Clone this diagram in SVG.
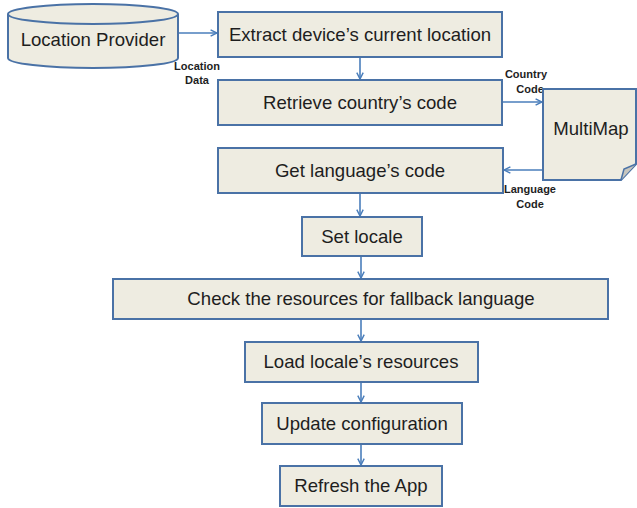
<svg xmlns="http://www.w3.org/2000/svg" width="637" height="508" viewBox="0 0 637 508">
<style>
.box{fill:#EEECE1;stroke:#4A72A6;stroke-width:2}
.t{font-family:"Liberation Sans",Arial,sans-serif;font-size:18.6px;fill:#1E1E1E;text-anchor:middle}
.lbl{font-family:"Liberation Sans",Arial,sans-serif;font-size:11px;font-weight:bold;fill:#1E1E1E;text-anchor:middle}
.c{fill:none;stroke:#4A7EBB;stroke-width:1.6}
</style>
<defs>
<marker id="ah" viewBox="0 0 10 10" refX="9" refY="5" markerWidth="8" markerHeight="8" markerUnits="userSpaceOnUse" orient="auto">
<path d="M1,1 L9,5 L1,9" fill="none" stroke="#4A7EBB" stroke-width="1.8"/>
</marker>
</defs>
<rect width="637" height="508" fill="#FFFFFF"/>
<g id="connectors">
<line class="c" x1="178" y1="33" x2="217" y2="33" marker-end="url(#ah)"/>
<line class="c" x1="360" y1="57" x2="360" y2="79" marker-end="url(#ah)"/>
<line class="c" x1="502" y1="102" x2="542" y2="102" marker-end="url(#ah)"/>
<line class="c" x1="543" y1="170" x2="504" y2="170" marker-end="url(#ah)"/>
<line class="c" x1="360" y1="193" x2="360" y2="216" marker-end="url(#ah)"/>
<line class="c" x1="361" y1="256" x2="361" y2="278" marker-end="url(#ah)"/>
<line class="c" x1="361" y1="319" x2="361" y2="341" marker-end="url(#ah)"/>
<line class="c" x1="361" y1="382" x2="361" y2="402" marker-end="url(#ah)"/>
<line class="c" x1="361" y1="444" x2="361" y2="465" marker-end="url(#ah)"/>
<text class="lbl" x="197" y="70">Location</text>
<text class="lbl" x="197" y="84">Data</text>
<text class="lbl" x="526" y="78">Country</text>
<text class="lbl" x="530" y="93">Code</text>
<text class="lbl" x="530" y="193">Language</text>
<text class="lbl" x="530" y="208">Code</text>
</g>
<g id="location-provider">
<path class="box" d="M8,14 A85,10 0 0 1 178,14 L178,58 A85,10 0 0 1 8,58 Z"/>
<path d="M8,14 A85,10 0 0 0 178,14" fill="none" stroke="#4A72A6" stroke-width="2"/>
<text class="t" x="93" y="46">Location Provider</text>
</g>
<g id="extract">
<rect class="box" x="218" y="12" width="284" height="45"/>
<text class="t" x="360" y="41">Extract device’s current location</text>
</g>
<g id="retrieve">
<rect class="box" x="218" y="80" width="284" height="45"/>
<text class="t" x="360" y="109">Retrieve country’s code</text>
</g>
<g id="multimap">
<path class="box" d="M543,89 L636,89 L636,164 L621,180 L543,180 Z"/>
<path d="M621,180 L624,169 L636,164" fill="#C8C6BE" stroke="#4A72A6" stroke-width="1.5"/>
<text class="t" x="591" y="135">MultiMap</text>
</g>
<g id="get-language">
<rect class="box" x="218" y="148" width="285" height="45"/>
<text class="t" x="360" y="177">Get language’s code</text>
</g>
<g id="set-locale">
<rect class="box" x="302" y="217" width="120" height="39"/>
<text class="t" x="362" y="243">Set locale</text>
</g>
<g id="check-resources">
<rect class="box" x="113" y="279" width="495" height="40"/>
<text class="t" x="361" y="305">Check the resources for fallback language</text>
</g>
<g id="load-resources">
<rect class="box" x="245" y="342" width="233" height="40"/>
<text class="t" x="361" y="368">Load locale’s resources</text>
</g>
<g id="update-config">
<rect class="box" x="262" y="403" width="200" height="41"/>
<text class="t" x="362" y="430">Update configuration</text>
</g>
<g id="refresh">
<rect class="box" x="280" y="466" width="162" height="40"/>
<text class="t" x="361" y="492">Refresh the App</text>
</g>
</svg>
